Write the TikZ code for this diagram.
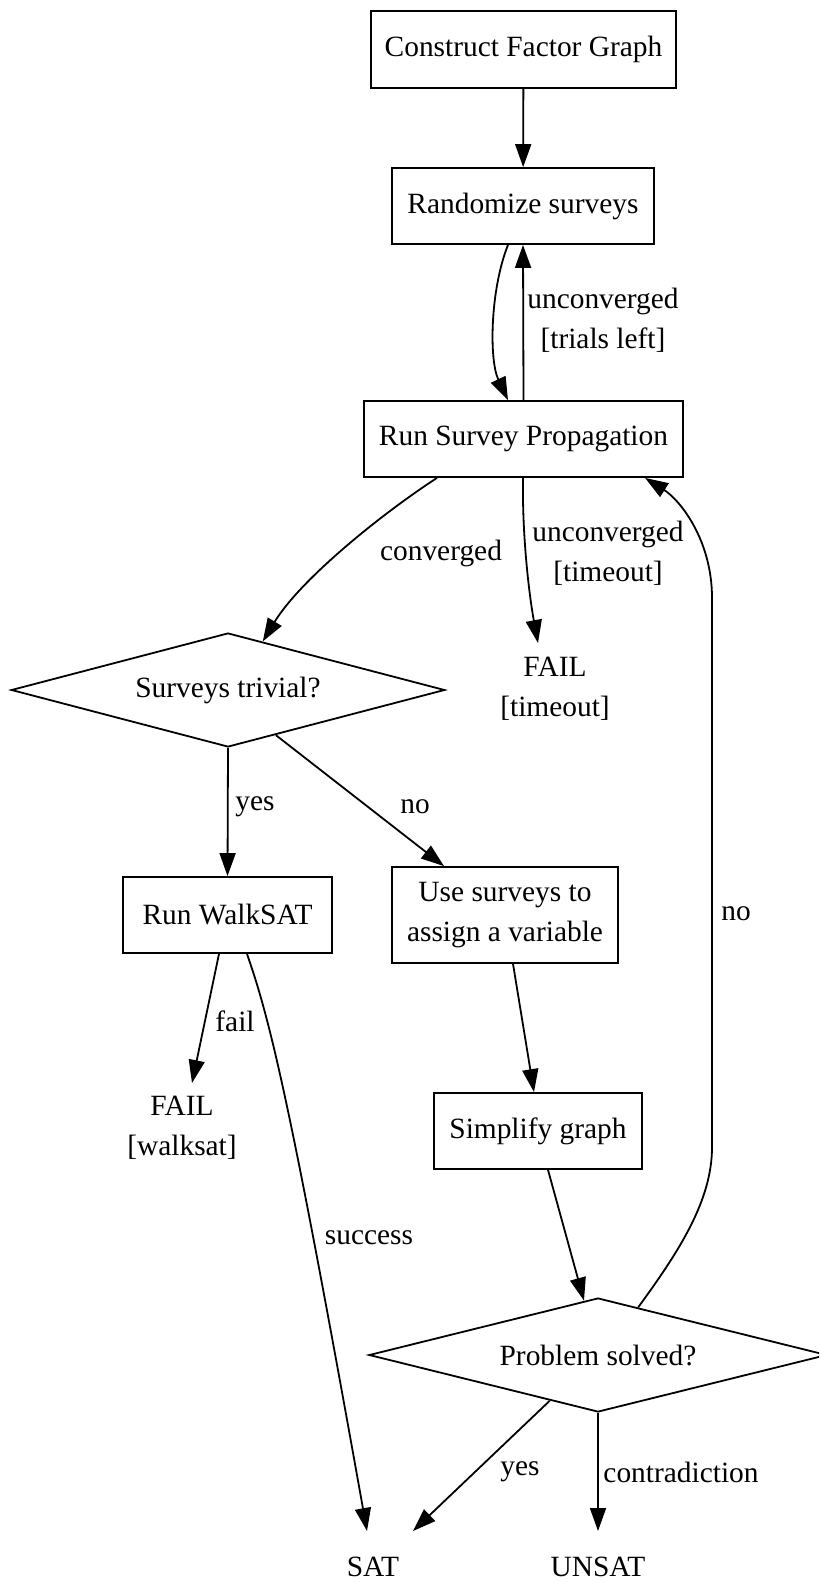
\documentclass[tikz,border=0pt]{standalone}
\usepackage{fontspec}
\setmainfont{Liberation Serif}
\usetikzlibrary{arrows.meta,shapes.geometric,calc}
\begin{document}
\begin{tikzpicture}[x=0.5pt,y=-0.5pt,
  every node/.style={font=\fontsize{14.7}{20}\selectfont},
  procbox/.style={draw,line width=0.9pt,rectangle,inner sep=0pt,align=center},
  dia/.style={draw,line width=0.9pt,diamond,inner sep=0pt,aspect=3.8},
  term/.style={align=center,inner sep=0pt},
  lbl/.style={align=center,inner sep=0pt},
  conn/.style={line width=0.9pt,-{Triangle[length=11.5pt,width=8pt]}}
]
\useasboundingbox (0,0) rectangle (819,1582);
\clip (0,0) rectangle (819,1582);

% nodes
\node[procbox,minimum width=152.5pt,minimum height=38.5pt] (construct) at (523.5,49.5) {Construct Factor Graph};
\node[procbox,minimum width=131pt,minimum height=38pt] (randomize) at (523,206) {Randomize surveys};
\node[procbox,minimum width=159.5pt,minimum height=38pt] (runsp) at (523.5,439) {Run Survey Propagation};
\node[dia,minimum width=216.75pt,minimum height=57pt] (trivial) at (228,690) {Surveys trivial?};
\node[term] (failto) at (555,689) {FAIL\\{[}timeout{]}};
\node[procbox,minimum width=104.5pt,minimum height=38pt] (walksat) at (227.5,915) {Run WalkSAT};
\node[procbox,minimum width=113pt,minimum height=48pt] (usesurveys) at (505,915) {Use surveys to\\assign a variable};
\node[term] (failws) at (182,1128) {FAIL\\{[}walksat{]}};
\node[procbox,minimum width=104pt,minimum height=38pt] (simplify) at (538,1131) {Simplify graph};
\node[dia,minimum width=229pt,minimum height=57pt] (solved) at (598,1355) {Problem solved?};
\node[term] (sat) at (373,1567) {SAT};
\node[term] (unsat) at (598,1567) {UNSAT};

% edges
\draw[conn] (construct) -- (randomize);
\draw[conn] ($(randomize.south)+(-15,0)$) .. controls (490,290) and (489,360) .. ($(runsp.north)+(-15.5,0)$);
\draw[conn] (runsp.north) -- (randomize.south);
\node[lbl] (l1) at (603,320) {unconverged\\{[}trials left{]}};

\draw[conn] ($(runsp.south)+(-86.5,0)$) .. controls (380,515) and (300,580) .. ($(trivial.north)!0.16!(trivial.east)$);
\node[lbl] (l2) at (441,553) {converged};

\draw[conn] ($(runsp.south)+(-0.5,0)$) .. controls (522,540) and (530,600) .. ($(failto.center)+(-17,-46)$);
\node[lbl] (l3) at (608,553) {unconverged\\{[}timeout{]}};

\draw[conn] (trivial.south) -- (walksat.north);
\node[lbl] (l4) at (255,807) {yes};

\draw[conn] ($(trivial.south)!0.22!(trivial.east)$) -- ($(usesurveys.north)+(-61,0)$);
\node[lbl] (l5) at (415,807) {no};

\draw[conn] ($(walksat.south)+(-8.5,0)$) -- ($(failws.center)+(10,-45)$);
\node[lbl] (l6) at (235,1021) {fail};

\draw[conn] ($(walksat.south)+(19.5,0)$) .. controls (270,1020) and (290,1100) .. ($(sat.center)+(-6,-36)$);
\node[lbl] (l7) at (369,1238) {success};

\draw[conn] ($(usesurveys.south)+(8,0)$) -- ($(simplify.north)+(-4,0)$);
\draw[conn] ($(simplify.south)+(10,0)$) -- ($(solved.north)!0.061!(solved.west)$);

\draw[conn] ($(solved.north)!0.175!(solved.east)$) .. controls (680,1250) and (712,1200) .. (712,1147) -- (712,598) .. controls (712,540) and (680,500) .. ($(runsp.south)+(121.5,0)$);
\node[lbl] (l8) at (736,914) {no};

\draw[conn] ($(solved.south)!0.21!(solved.west)$) -- ($(sat.center)+(40,-36)$);
\node[lbl] (l9) at (520,1472) {yes};

\draw[conn] (solved.south) -- ($(unsat.center)+(0,-36)$);
\node[lbl] (l10) at (681,1472) {contradiction};
\end{tikzpicture}
\end{document}
